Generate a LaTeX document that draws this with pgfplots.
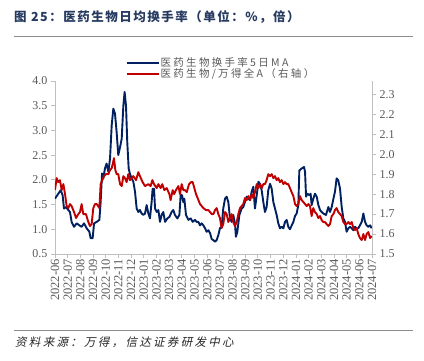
\documentclass[border=0pt]{standalone}
\usepackage{pgfplots}
\pgfplotsset{compat=1.18}
\usepackage{fontspec}
\setmainfont{Liberation Serif}
\newfontfamily\cjk{Noto Sans CJK SC}
\newfontfamily\cjkt{Noto Sans CJK SC}[LetterSpace=12]
\newfontfamily\cjkleg{Noto Sans CJK SC}[LetterSpace=22]
\newfontfamily\cjkit{Noto Sans CJK SC}[FakeSlant=0.22,LetterSpace=20]
\definecolor{navy}{RGB}{0,32,96}
\definecolor{dred}{RGB}{192,0,0}
\definecolor{axgray}{RGB}{191,191,191}
\definecolor{txtgray}{RGB}{89,89,89}
\definecolor{titleblue}{RGB}{38,58,96}
\definecolor{rulegray}{RGB}{140,140,140}

\pgfplotstableread{
x y
0 1.62
0.26 1.72
0.45 1.79
0.60 1.69
0.71 1.42
0.87 1.45
1.05 1.39
1.18 1.35
1.31 1.15
1.50 1.05
1.71 1.12
1.92 1.08
2.10 1.05
2.29 1.12
2.50 1.02
2.71 0.95
2.81 0.82
2.97 0.82
3.08 1.12
3.29 1.15
3.50 1.19
3.60 1.55
3.71 2.13
3.81 2.03
3.94 2.23
4.07 2.33
4.21 2.16
4.34 2.43
4.47 3.10
4.60 3.44
4.73 3.34
4.86 2.97
4.99 2.50
5.13 2.66
5.26 2.83
5.39 3.50
5.49 3.78
5.60 3.50
5.70 2.76
5.81 2.23
5.91 2.12
6.05 2.03
6.18 1.96
6.31 1.76
6.44 1.42
6.57 1.35
6.70 1.39
6.83 1.32
6.97 1.29
7.10 1.32
7.23 1.49
7.36 1.32
7.49 1.22
7.62 1.55
7.70 1.82
7.81 1.82
7.89 1.42
8.02 1.35
8.15 1.39
8.28 1.15
8.41 1.29
8.54 1.35
8.68 1.15
8.86 1.22
9.02 1.25
9.20 1.35
9.33 1.39
9.46 1.29
9.65 1.22
9.81 1.29
9.91 1.69
10.02 1.69
10.12 1.55
10.20 1.62
10.33 1.29
10.52 1.19
10.70 1.22
10.86 1.15
11.04 1.19
11.17 1.15
11.30 1.15
11.44 1.08
11.57 1.12
11.70 1.08
11.83 1.02
11.96 0.95
12.10 0.98
12.23 0.92
12.36 0.80
12.49 0.78
12.62 0.75
12.75 0.78
12.88 0.88
13.01 1.02
13.14 1.05
13.27 1.42
13.41 1.62
13.54 1.66
13.67 1.55
13.80 1.22
13.93 1.15
14.06 1.29
14.19 1.12
14.27 0.85
14.38 0.95
14.54 1.29
14.72 1.42
14.85 1.45
14.98 1.55
15.12 1.66
15.25 1.62
15.38 1.59
15.51 1.76
15.64 1.86
15.77 1.42
15.91 1.69
16.04 1.96
16.17 1.92
16.30 1.79
16.43 1.55
16.56 1.35
16.69 1.45
16.82 1.79
16.96 1.92
17.09 1.82
17.22 1.55
17.35 1.42
17.48 1.29
17.61 1.12
17.74 1.02
17.88 1.05
18.01 1.02
18.14 1.15
18.27 1.19
18.40 1.05
18.53 1.00
18.67 1.08
18.80 1.15
18.93 1.27
19.06 1.32
19.19 1.49
19.27 2.19
19.45 2.23
19.64 2.26
19.72 2.16
19.80 1.66
19.90 1.72
20.06 1.69
20.16 1.72
20.24 1.49
20.37 1.62
20.50 1.72
20.64 1.66
20.77 1.49
20.90 1.39
21.03 1.35
21.16 1.32
21.37 1.29
21.56 1.45
21.69 1.35
21.82 1.45
21.96 1.62
22.08 1.76
22.21 2.03
22.34 1.99
22.48 1.82
22.61 1.45
22.74 1.22
22.87 1.15
23.00 0.95
23.13 1.02
23.27 1.05
23.40 1.02
23.53 0.98
23.66 1.05
23.79 1.02
23.92 1.02
24.05 1.08
24.19 1.15
24.32 1.32
24.45 1.15
24.58 1.08
24.71 1.05
24.85 1.08
24.97 1.02
}\bluedata

\pgfplotstableread{
x y
0 1.82
0.13 1.88
0.26 1.86
0.39 1.87
0.53 1.82
0.66 1.85
0.79 1.80
0.92 1.74
1.05 1.73
1.18 1.75
1.31 1.74
1.50 1.71
1.66 1.68
1.84 1.70
1.97 1.71
2.10 1.75
2.23 1.70
2.44 1.70
2.63 1.66
2.76 1.64
2.89 1.65
3.02 1.73
3.15 1.75
3.29 1.75
3.50 1.73
3.60 1.85
3.73 1.87
3.86 1.89
4.02 1.90
4.21 1.90
4.34 1.92
4.47 1.93
4.55 1.95
4.65 1.98
4.76 1.92
4.86 1.90
4.99 1.90
5.13 1.85
5.26 1.84
5.39 1.89
5.52 1.88
5.65 1.86
5.78 1.90
5.91 1.87
6.05 1.88
6.18 1.89
6.39 1.87
6.57 1.91
6.70 1.89
6.91 1.86
7.10 1.84
7.36 1.85
7.54 1.84
7.68 1.87
7.81 1.85
8.02 1.83
8.15 1.85
8.33 1.83
8.46 1.85
8.62 1.82
8.81 1.83
9.02 1.80
9.12 1.77
9.28 1.82
9.39 1.80
9.54 1.82
9.73 1.84
9.86 1.80
9.99 1.85
10.12 1.82
10.25 1.82
10.39 1.81
10.57 1.85
10.73 1.86
10.86 1.86
10.99 1.83
11.12 1.80
11.25 1.78
11.44 1.75
11.57 1.74
11.70 1.73
11.91 1.72
12.09 1.72
12.23 1.71
12.36 1.70
12.49 1.70
12.62 1.72
12.75 1.73
12.88 1.70
13.01 1.68
13.14 1.63
13.27 1.65
13.41 1.71
13.54 1.70
13.67 1.66
13.80 1.68
13.93 1.70
14.06 1.66
14.19 1.64
14.33 1.66
14.46 1.70
14.59 1.73
14.72 1.74
14.85 1.75
14.98 1.78
15.12 1.77
15.25 1.79
15.38 1.77
15.51 1.80
15.64 1.78
15.77 1.81
15.91 1.85
16.04 1.83
16.17 1.85
16.30 1.83
16.43 1.85
16.56 1.85
16.69 1.87
16.82 1.90
16.96 1.89
17.09 1.90
17.22 1.88
17.35 1.89
17.48 1.87
17.61 1.88
17.74 1.86
17.88 1.87
18.01 1.85
18.14 1.86
18.27 1.85
18.40 1.85
18.53 1.83
18.66 1.81
18.80 1.79
18.93 1.75
19.06 1.74
19.19 1.75
19.32 1.79
19.45 1.77
19.59 1.76
19.72 1.75
19.85 1.74
19.98 1.75
20.11 1.74
20.24 1.69
20.37 1.73
20.50 1.71
20.64 1.70
20.77 1.68
20.90 1.69
21.03 1.67
21.16 1.66
21.29 1.66
21.42 1.65
21.56 1.64
21.69 1.65
21.82 1.69
21.96 1.70
22.08 1.72
22.21 1.73
22.34 1.71
22.48 1.70
22.61 1.69
22.74 1.66
22.87 1.65
23.00 1.65
23.13 1.66
23.27 1.65
23.40 1.66
23.53 1.63
23.66 1.62
23.79 1.63
23.92 1.60
24.05 1.58
24.19 1.57
24.32 1.60
24.45 1.57
24.58 1.60
24.71 1.61
24.85 1.58
24.97 1.59
}\reddata

\begin{document}
\begin{tikzpicture}[x=1pt,y=1pt]
\pgfplotsset{
  common/.style={
    scale only axis,
    width=317pt, height=173pt,
    xmin=0, xmax=25,
    axis line style={draw=axgray, line width=0.8pt},
    tick style={draw=axgray, line width=0.8pt},
    major tick length=4pt,
    tick align=outside,
    ticklabel style={text=txtgray, font=\fontsize{12}{12}\selectfont},
    /pgf/number format/assume math mode=true,
  }
}

\begin{axis}[common, name=ax,
  ymin=0.5, ymax=4.0,
  axis x line*=bottom, axis y line*=left,
  ytick={0.5,1.0,1.5,2.0,2.5,3.0,3.5,4.0},
  yticklabel style={/pgf/number format/.cd, fixed, fixed zerofill, precision=1},
  xtick={0,1,...,25},
  xticklabels={2022-06,2022-07,2022-08,2022-09,2022-10,2022-11,2022-12,2023-01,2023-02,2023-03,2023-04,2023-05,2023-06,2023-07,2023-08,2023-09,2023-10,2023-11,2023-12,2024-01,2024-02,2024-03,2024-04,2024-05,2024-06,2024-07},
  xticklabel style={rotate=90, anchor=east, font=\fontsize{12.5}{12.5}\selectfont, inner sep=1pt},
]
\addplot[navy, line width=1.9pt, line join=round] table[x=x,y=y] {\bluedata};
\end{axis}

\begin{axis}[common,
  at={(ax.south west)}, anchor=south west,
  ymin=1.5, ymax=2.3665,
  axis x line=none, axis y line*=right,
  ytick={1.5,1.6,1.7,1.8,1.9,2.0,2.1,2.2,2.3},
  yticklabel style={/pgf/number format/.cd, fixed, fixed zerofill, precision=1},
  legend style={at={(0.222,1.137)}, anchor=north west, draw=none, fill=none,
    font=\cjkleg\fontsize{10.5}{10.5}\selectfont, text=txtgray,
    inner sep=0pt, row sep=0pt,
    nodes={inner sep=1pt, text height=7.5pt, text depth=1.5pt}},
  legend cell align=left,
  legend image code/.code={\draw[#1, line width=2pt] (0pt,0pt) -- (32pt,0pt);},
]
\addlegendimage{navy}
\addlegendentry{医药生物换手率5日MA}
\addplot[dred, line width=1.9pt, line join=round] table[x=x,y=y] {\reddata};
\addlegendentry{医药生物/万得全A（右轴）}
\end{axis}

\begin{scope}[shift={(ax.south west)}]
\node[anchor=west, inner sep=0pt, text=titleblue, font=\cjkt\bfseries\fontsize{12.5}{14}\selectfont] at (-41,237) {图 25：医药生物日均换手率（单位：\%，倍）};
\draw[rulegray, line width=1.5pt] (-41,217.3) -- (358,217.3);
\draw[rulegray, line width=1.2pt] (-41,-76.7) -- (358,-76.7);
\node[anchor=west, inner sep=0pt, text=black!85, font=\cjkit\fontsize{11.5}{13}\selectfont] at (-40,-88.5) {资料来源：万得，信达证券研发中心};
\end{scope}

\pgfresetboundingbox
\path[use as bounding box, shift={(ax.south west)}] (-55,-107) rectangle (369,254);
\end{tikzpicture}
\end{document}
